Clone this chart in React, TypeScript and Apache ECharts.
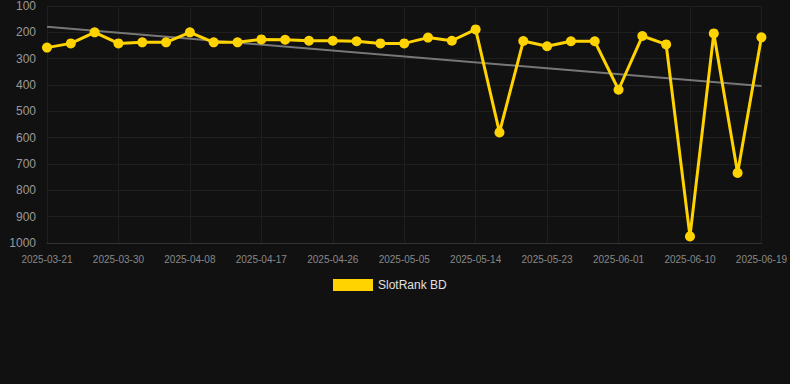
import React, { useEffect, useRef } from "react";
import * as echarts from "echarts";

const categories = [
  "2025-03-21", "2025-03-24", "2025-03-27", "2025-03-30", "2025-04-02", "2025-04-05",
  "2025-04-08", "2025-04-11", "2025-04-14", "2025-04-17", "2025-04-20", "2025-04-23",
  "2025-04-26", "2025-04-29", "2025-05-02", "2025-05-05", "2025-05-08", "2025-05-11",
  "2025-05-14", "2025-05-17", "2025-05-20", "2025-05-23", "2025-05-26", "2025-05-29",
  "2025-06-01", "2025-06-04", "2025-06-07", "2025-06-10", "2025-06-13", "2025-06-16",
  "2025-06-19",
];

const rankValues = [
  258, 242, 200, 242, 238, 238, 200, 238, 238, 227, 228, 232, 232, 234, 242, 242,
  220, 232, 189, 580, 233, 253, 234, 234, 418, 214, 246, 975, 204, 734, 219,
];

const trendStart = 179;
const trendEnd = 404;

const yTicks = { min: 100, max: 1000, interval: 100 };

export default function App() {
  const ref = useRef<HTMLDivElement>(null);

  useEffect(() => {
    document.body.style.margin = "0";
    document.body.style.background = "#111111";
    const chart = echarts.init(ref.current!, null, { renderer: "svg" });
    const trendData = categories.map((_, i) =>
      i === 0 ? trendStart : i === categories.length - 1 ? trendEnd : null
    );
    chart.setOption({
      animation: false,
      backgroundColor: "#111111",
      grid: { left: 47, right: 28, top: 6, bottom: 141 },
      legend: {
        data: ["SlotRank BD"],
        top: 274,
        left: 328,
        icon: "rect",
        itemWidth: 40,
        itemHeight: 12,
        itemGap: 10,
        textStyle: { color: "#e0e0e0", fontSize: 12, fontFamily: "Liberation Sans, Arial, sans-serif" },
      },
      xAxis: {
        type: "category",
        data: categories,
        boundaryGap: false,
        axisLine: { show: true, lineStyle: { color: "#333333" } },
        axisTick: { show: false },
        axisLabel: {
          interval: 2,
          color: "#888888",
          fontSize: 10,
          margin: 11,
          fontFamily: "Liberation Sans, Arial, sans-serif",
        },
        splitLine: { show: true, interval: 2, lineStyle: { color: "#1f1f1f", width: 1 } },
      },
      yAxis: {
        type: "value",
        inverse: true,
        min: yTicks.min,
        max: yTicks.max,
        interval: yTicks.interval,
        axisLine: { show: false },
        axisTick: { show: false },
        axisLabel: {
          color: "#999999",
          fontSize: 12,
          margin: 11,
          formatter: (v: number) => String(v),
          fontFamily: "Liberation Sans, Arial, sans-serif",
        },
        splitLine: { show: true, lineStyle: { color: "#1f1f1f", width: 1 } },
      },
      series: [
        {
          name: "Trend",
          type: "line",
          data: trendData,
          connectNulls: true,
          showSymbol: false,
          symbol: "none",
          lineStyle: { color: "#777777", width: 2 },
          itemStyle: { color: "#777777" },
          z: 1,
        },
        {
          name: "SlotRank BD",
          type: "line",
          data: rankValues,
          symbol: "circle",
          symbolSize: 10,
          lineStyle: { color: "#FFD300", width: 3 },
          itemStyle: { color: "#FFD300" },
          z: 2,
        },
      ],
    });
    return () => chart.dispose();
  }, []);

  return <div ref={ref} style={{ width: 790, height: 384, background: "#111111" }} />;
}
